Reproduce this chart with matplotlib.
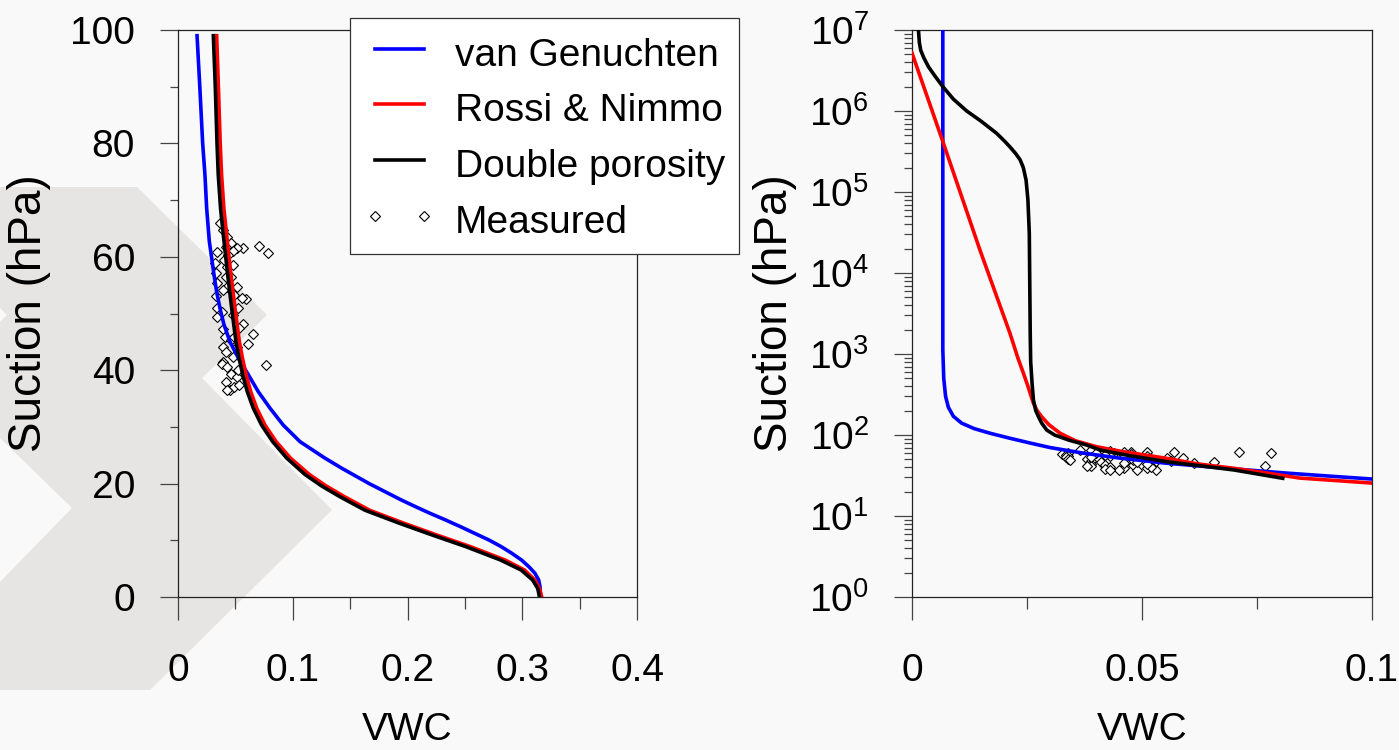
import numpy as np
import matplotlib
matplotlib.use('Agg')
import matplotlib.pyplot as plt
from matplotlib.patches import Polygon
from matplotlib.ticker import MultipleLocator, LogLocator, LogFormatterMathtext, NullFormatter

plt.rcParams['font.family'] = ['Liberation Sans', 'DejaVu Sans']
plt.rcParams['mathtext.fontset'] = 'custom'
plt.rcParams['mathtext.rm'] = 'Liberation Sans'
plt.rcParams['mathtext.it'] = 'Liberation Sans'
plt.rcParams['mathtext.default'] = 'regular'

# ---- data ----
# left panel (linear suction axis): suction (hPa) and VWC
vg_lin_s = [99, 90, 80, 74.4, 68.5, 62.7, 59.7, 56.8, 53.8, 50.9, 48.0, 45.0, 42.1, 39.2, 36.2,
            33.3, 30.3, 27.4, 24.5, 22.7, 20.0, 17.1, 15.9, 14.8, 13.6, 12.4, 11.2, 10.05, 8.9,
            7.7, 6.5, 5.3, 4.2, 3.0, 1.8, 0]
vg_lin_v = [0.0166, 0.019, 0.0215, 0.0235, 0.0250, 0.0273, 0.0294, 0.0314, 0.0337, 0.0366, 0.0401,
            0.0453, 0.0527, 0.0613, 0.0700, 0.0802, 0.0918, 0.1063, 0.128, 0.1428, 0.1666, 0.1947,
            0.2073, 0.2192, 0.233, 0.2462, 0.2588, 0.271, 0.2815, 0.291, 0.2995, 0.306, 0.311,
            0.3143, 0.3155, 0.316]

dp_lin_s = [99, 90, 80, 74.4, 68.5, 62.7, 56.8, 50.9, 45.0, 42.1, 39.2, 36.2, 33.3, 30.3, 27.4,
            24.5, 21.6, 19.6, 17.7, 15.3, 13.0, 10.9, 8.87, 6.53, 4.76, 3.0, 1.5, 0]
dp_lin_v = [0.0308, 0.0325, 0.0340, 0.0351, 0.0371, 0.0401, 0.0433, 0.0468, 0.0505, 0.0532, 0.0564,
            0.0604, 0.0656, 0.0729, 0.0825, 0.0947, 0.1107, 0.125, 0.141, 0.163, 0.193, 0.222,
            0.251, 0.281, 0.299, 0.309, 0.3135, 0.315]

rn_lin_s = [99, 90, 80, 74.4, 68.5, 62.7, 56.8, 50.9, 45.0, 42.1, 39.2, 36.2, 33.3, 30.3, 27.4,
            24.5, 21.6, 19.6, 17.7, 15.3, 13.0, 10.9, 8.87, 6.53, 4.76, 3.0, 1.5, 0]
rn_lin_v = [0.0337, 0.0352, 0.0368, 0.0380, 0.0400, 0.0430, 0.0462, 0.0497, 0.0535, 0.0562, 0.0594,
            0.0634, 0.0686, 0.0759, 0.0855, 0.0980, 0.1145, 0.129, 0.145, 0.167, 0.197, 0.226,
            0.255, 0.285, 0.302, 0.311, 0.315, 0.317]

# right panel (log suction axis)
vg_log_s = [1e7, 1120, 500, 300, 220, 170, 140, 120, 105, 92, 80, 70, 60, 52, 45, 39, 34, 31, 28.6]
vg_log_v = [0.0067, 0.0067, 0.0069, 0.0073, 0.0079, 0.0090, 0.0108, 0.0135, 0.0170, 0.0210, 0.0255,
            0.0300, 0.0370, 0.0450, 0.055, 0.068, 0.081, 0.091, 0.1]

rn_log_s = [5.2e6, 4.2e5, 1.9e4, 1800, 900, 583, 400, 300, 246, 200, 168, 135, 105, 85, 71.7, 62,
            51.5, 44, 38.8, 34, 29.4, 25.5]
rn_log_v = [0.0, 0.0067, 0.0148, 0.0213, 0.0230, 0.0242, 0.0252, 0.0259, 0.0264, 0.0272, 0.0282,
            0.0297, 0.0322, 0.0355, 0.0401, 0.0460, 0.0554, 0.062, 0.070, 0.077, 0.0843, 0.1]

dp_log_s = [1e7, 7e6, 5.6e6, 4.5e6, 3.5e6, 2.7e6, 2e6, 1.4e6, 1e6, 7.5e5, 5.3e5, 4.2e5, 3.6e5, 3e5,
            2.5e5, 2e5, 1.4e5, 8e4, 3.1e4, 1820, 800, 435, 270, 200, 168, 140, 115, 100, 86.8,
            75, 65, 56, 46.8, 37, 29.2]
dp_log_v = [0.0014, 0.0016, 0.0019, 0.0026, 0.0036, 0.0050, 0.0067, 0.0090, 0.0119, 0.0150, 0.0184,
            0.0202, 0.0213, 0.0225, 0.0235, 0.0242, 0.0248, 0.0252, 0.0255, 0.0257, 0.0258, 0.0261,
            0.0264, 0.0269, 0.0275, 0.0282, 0.0293, 0.0310, 0.0340, 0.038, 0.041, 0.047, 0.0554,
            0.070, 0.0806]

# measured points
meas_v = [0.057, 0.071, 0.078, 0.0767, 0.0656, 0.0613, 0.059, 0.0555, 0.0564, 0.051,
          0.034, 0.0325, 0.0334, 0.034, 0.0334, 0.034, 0.0343, 0.038, 0.039, 0.041,
          0.039, 0.042, 0.039, 0.038, 0.043, 0.048, 0.046, 0.051, 0.042, 0.045,
          0.049, 0.053, 0.052, 0.043,
          0.0366, 0.039, 0.043, 0.046, 0.0418, 0.0476, 0.044, 0.040, 0.043, 0.0476,
          0.046, 0.051, 0.049, 0.043, 0.039, 0.042, 0.052, 0.048, 0.053, 0.051,
          0.046, 0.049]
meas_s = [61.6, 61.9, 60.6, 40.9, 46.3, 44.7, 52.5, 52.7, 48.1, 61.5,
          60.8, 58.9, 57.2, 55.4, 53.1, 51.0, 49.3, 50.2, 47.3, 45.9,
          44.1, 43.2, 41.4, 41.1, 40.6, 42.3, 39.4, 38.8, 37.9, 36.5,
          37.1, 37.4, 40.0, 36.5,
          65.9, 64.7, 63.5, 62.4, 61.7, 61.1, 60.3, 59.4, 58.2, 58.5,
          56.4, 54.7, 53.2, 54.7, 54.1, 56.4, 51.0, 49.8, 47.5, 44.1,
          45.3, 45.9]

left_xticks = [0, 0.1, 0.2, 0.3, 0.4]
left_xlabels = ['0', '0.1', '0.2', '0.3', '0.4']
right_xticks = [0, 0.05, 0.1]
right_xlabels = ['0', '0.05', '0.1']

W, H = 1399, 750
fig = plt.figure(figsize=(W / 100, H / 100), dpi=100)
fig.patch.set_facecolor('#f9f9f9')

# faint chevron watermark behind the left panel
wm = [(0, 187), (137, 187), (267, 315), (202, 378), (332, 510), (150, 690), (0, 690),
      (0, 582), (72, 508), (0, 438), (0, 322), (7, 315), (0, 308)]
fig.patches.append(Polygon([(x / W, 1 - y / H) for x, y in wm], closed=True,
                           transform=fig.transFigure, facecolor='#e6e5e4',
                           edgecolor='none', zorder=-5))

ax1 = fig.add_axes([178 / W, 1 - 597 / H, 459 / W, 567 / H])
ax2 = fig.add_axes([912 / W, 1 - 597 / H, 460 / W, 567 / H])

fs = 28
lw = 2.6
for ax, lin in ((ax1, True), (ax2, False)):
    ax.set_facecolor('none')
    if lin:
        l1, = ax.plot(vg_lin_v, vg_lin_s, color='#0000ff', lw=lw, zorder=3, label='van Genuchten')
        l2, = ax.plot(rn_lin_v, rn_lin_s, color='#ff0000', lw=lw, zorder=3, label='Rossi & Nimmo')
        l3, = ax.plot(dp_lin_v, dp_lin_s, color='black', lw=lw, zorder=4, label='Double porosity')
    else:
        ax.plot(vg_log_v, vg_log_s, color='#0000ff', lw=lw, zorder=3)
        ax.plot(rn_log_v, rn_log_s, color='#ff0000', lw=lw, zorder=3)
        ax.plot(dp_log_v, dp_log_s, color='black', lw=lw, zorder=4)
    l4, = ax.plot(meas_v, meas_s, ls='none', marker='D', ms=5.3, mfc='white',
                  mec='black', mew=0.8, zorder=2, label='Measured')
    for sp in ax.spines.values():
        sp.set_linewidth(0.9)
        sp.set_color('#222222')
    ax.tick_params(axis='x', which='major', direction='out', length=16.5, width=0.9,
                   color='#444444', pad=23.5, labelsize=fs)
    ax.tick_params(axis='x', which='minor', direction='out', length=8.6, width=0.9,
                   color='#444444')
    ax.tick_params(axis='y', which='major', direction='out', length=13, width=0.9,
                   color='#444444', pad=18, labelsize=fs)
    ax.tick_params(axis='y', which='minor', direction='out', length=6, width=0.9,
                   color='#444444')
    ax.set_xlabel('VWC', fontsize=fs, va='baseline')
    ax.set_ylabel('Suction (hPa)', fontsize=33, va='center')

ax1.set_xlim(0, 0.4)
ax1.set_ylim(0, 100)
ax1.set_xticks(left_xticks)
ax1.set_xticklabels(left_xlabels)
ax1.xaxis.set_minor_locator(MultipleLocator(0.05))
ax1.yaxis.set_major_locator(MultipleLocator(20))
ax1.yaxis.set_minor_locator(MultipleLocator(10))
ax1.xaxis.set_label_coords(0.5, -0.252)
ax1.yaxis.set_label_coords(-0.325, 0.5)

ax2.set_yscale('log')
ax2.set_xlim(0, 0.1)
ax2.set_ylim(1, 1e7)
ax2.set_xticks(right_xticks)
ax2.set_xticklabels(right_xlabels)
ax2.xaxis.set_minor_locator(MultipleLocator(0.025))
ax2.yaxis.set_major_locator(LogLocator(base=10, numticks=20))
ax2.yaxis.set_major_formatter(LogFormatterMathtext())
ax2.yaxis.set_minor_locator(LogLocator(base=10, subs=np.arange(2, 10), numticks=100))
ax2.yaxis.set_minor_formatter(NullFormatter())
ax2.xaxis.set_label_coords(0.5, -0.252)
ax2.yaxis.set_label_coords(-0.298, 0.5)

leg = ax1.legend(handles=[l1, l2, l3, l4], loc='upper left',
                 bbox_to_anchor=(350 / W, 1 - 18 / H), bbox_transform=fig.transFigure,
                 fontsize=fs, frameon=True, fancybox=False, framealpha=1,
                 edgecolor='#333333', borderpad=0.35, borderaxespad=0,
                 handlelength=1.85, handleheight=1.3, handletextpad=0.5,
                 labelspacing=0.34, numpoints=2)
leg.get_frame().set_linewidth(0.9)
leg.set_zorder(10)

fig.savefig('out.png', dpi=100, facecolor=fig.get_facecolor())
